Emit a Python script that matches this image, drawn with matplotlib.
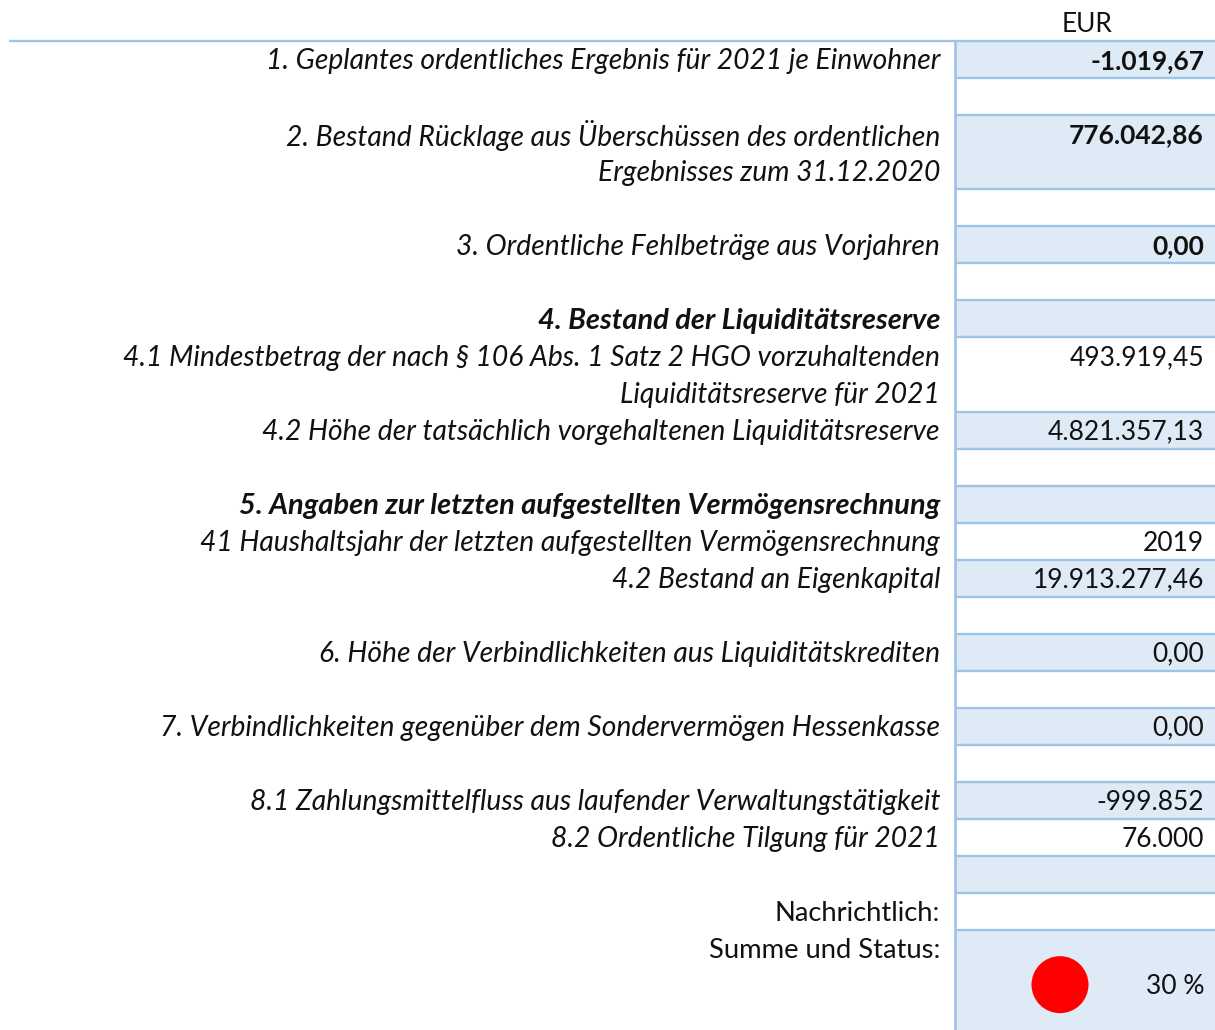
from __future__ import annotations

import matplotlib

matplotlib.use("Agg")
import matplotlib.pyplot as plt
from matplotlib.patches import Ellipse, Rectangle

plt.rcParams["font.family"] = ["Lato", "Carlito", "DejaVu Sans"]

# one entry per table row, wrapped labels keep their two lines
LABELS = [
    ["1. Geplantes ordentliches Ergebnis für 2021 je Einwohner"],
    [],
    ["2. Bestand Rücklage aus Überschüssen des ordentlichen", "Ergebnisses zum 31.12.2020"],
    [],
    ["3. Ordentliche Fehlbeträge aus Vorjahren"],
    [],
    ["4. Bestand der Liquiditätsreserve"],
    ["4.1 Mindestbetrag der nach § 106 Abs. 1 Satz 2 HGO vorzuhaltenden", "Liquiditätsreserve für 2021"],
    ["4.2 Höhe der tatsächlich vorgehaltenen Liquiditätsreserve"],
    [],
    ["5. Angaben zur letzten aufgestellten Vermögensrechnung"],
    ["41 Haushaltsjahr der letzten aufgestellten Vermögensrechnung"],
    ["4.2 Bestand an Eigenkapital"],
    [],
    ["6. Höhe der Verbindlichkeiten aus Liquiditätskrediten"],
    [],
    ["7. Verbindlichkeiten gegenüber dem Sondervermögen Hessenkasse"],
    [],
    ["8.1 Zahlungsmittelfluss aus laufender Verwaltungstätigkeit"],
    ["8.2 Ordentliche Tilgung für 2021"],
    [],
    ["Nachrichtlich:"],
    ["Summe und Status:"],
]
VALUES = [
    "-1.019,67", "", "776.042,86", "", "0,00", "", "",
    "493.919,45", "4.821.357,13", "", "", "2019", "19.913.277,46", "",
    "0,00", "", "0,00", "", "-999.852", "76.000", "", "", "",
]
ROW_SPANS = [1, 1, 2, 1, 1, 1, 1, 2, 1, 1, 1, 1, 1, 1, 1, 1, 1, 1, 1, 1, 1, 1, 2.7]
BOLD_LABELS = [6, 10]
BOLD_VALUES = [0, 2, 4]
PLAIN_LABELS = [21, 22]
UNIT = "EUR"
STATUS = "30 %"

LINE = "#9dc3e6"
FILL = "#deeaf6"
INK = "#111111"
ROW_PX = 37.05
TOP_PX = 41
TEXT_SHIFT = 0.05


def label_size(i: int) -> float:
    if i in PLAIN_LABELS:
        return 19.7
    if i in BOLD_LABELS:
        return 20.9
    return 20.3


def main() -> None:
    fig = plt.figure(figsize=(12.15, 10.3), dpi=100)
    ax = fig.add_axes([0, 0, 1, 1])
    # x in pixels, y in table rows
    ax.set_xlim(0, 1215)
    ax.set_ylim((1030 - TOP_PX) / ROW_PX, -TOP_PX / ROW_PX)
    ax.axis("off")

    col_x = 955
    right_x = 1215
    top = 0.0
    for i, span in enumerate(ROW_SPANS):
        if i % 2 == 0:
            ax.add_patch(Rectangle((col_x, top), right_x - col_x, span, facecolor=FILL, edgecolor="none", zorder=1))
        if i < len(ROW_SPANS) - 1:
            ax.plot([col_x, right_x], [top + span, top + span], color=LINE, lw=1.7, zorder=2, solid_capstyle="butt")
        for k, line in enumerate(LABELS[i]):
            ax.text(
                940,
                top + 0.5 + k + TEXT_SHIFT,
                line,
                ha="right",
                va="center",
                fontsize=label_size(i),
                style="normal" if i in PLAIN_LABELS else "italic",
                weight="bold" if i in BOLD_LABELS else "normal",
                color=INK,
                zorder=3,
            )
        if VALUES[i]:
            ax.text(
                1204,
                top + 0.5 + TEXT_SHIFT,
                VALUES[i],
                ha="right",
                va="center",
                fontsize=19.0,
                weight="bold" if i in BOLD_VALUES else "normal",
                color=INK,
                zorder=3,
            )
        top += span

    # header rule and column divider
    ax.plot([9, right_x], [0, 0], color=LINE, lw=1.7, zorder=2, solid_capstyle="butt")
    ax.plot([col_x, col_x], [0, top], color=LINE, lw=1.9, zorder=2, solid_capstyle="butt")
    ax.text(1087, -0.45, UNIT, ha="center", va="center", fontsize=19.0, color=INK)

    # status traffic light
    status_top = sum(ROW_SPANS[:-1])
    ax.add_patch(Ellipse((1060, status_top + 1.47), 57, 57 / ROW_PX, facecolor="#ff0000", edgecolor="none", zorder=3))
    ax.text(1204, status_top + 1.47 + TEXT_SHIFT, STATUS, ha="right", va="center", fontsize=19.0, color=INK, zorder=3)

    fig.savefig("out.png", dpi=100)


if __name__ == "__main__":
    main()
